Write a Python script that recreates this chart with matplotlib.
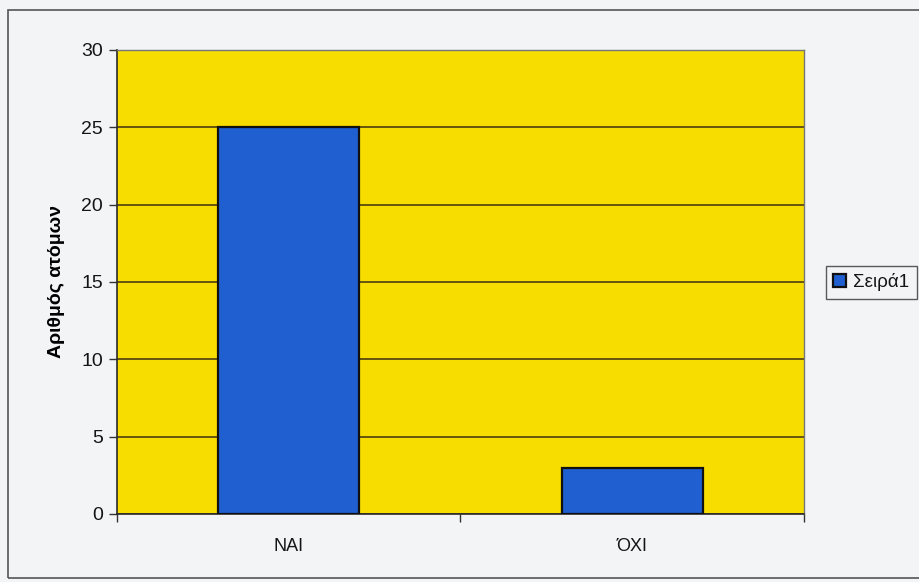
import matplotlib.pyplot as plt
from matplotlib.patches import Rectangle

categories = ["NAI", "ΌΧΙ"]
values = [25, 3]
series_name = "Σειρά1"
y_ticks = [0, 5, 10, 15, 20, 25, 30]

plt.rcParams['font.family'] = ['Liberation Sans', 'DejaVu Sans']
plt.rcParams['text.color'] = '#151515'

fig = plt.figure(figsize=(9.2, 5.82), dpi=100)
fig.patch.set_facecolor('#f3f4f6')

# outer chart frame
fig.patches.append(Rectangle((8 / 920, 4 / 582), 1.0, 568 / 582,
                             transform=fig.transFigure, fill=False,
                             edgecolor='#555555', linewidth=1.2))

ax = fig.add_axes([117 / 920, 68 / 582, 687 / 920, 464 / 582])
ax.set_facecolor('#f8de00')

x = list(range(len(categories)))
bars = ax.bar(x, values, width=0.41, color='#1f5fd0', edgecolor='#101010',
              linewidth=1.6, label=series_name, zorder=3)

ax.set_xlim(-0.5, len(categories) - 0.5)
ax.set_ylim(0, 30)
ax.set_yticks(y_ticks)
ax.yaxis.grid(True, color='#3e3010', linewidth=1.1, zorder=1)
ax.set_axisbelow(True)

ax.set_xticks(x)
ax.set_xticklabels(categories, fontsize=13, color='#151515')
ax.tick_params(axis='x', which='major', length=0, pad=17)
ax.set_xticks([-0.5, 0.5, 1.5], minor=True)
ax.tick_params(axis='x', which='minor', length=6, width=1, color='#333333',
               direction='out')
ax.tick_params(axis='y', length=6, width=1, color='#333333', labelsize=14,
               labelcolor='#151515', pad=4)

for side in ('left', 'bottom'):
    ax.spines[side].set_color('#2a2a2a')
    ax.spines[side].set_linewidth(1.2)
for side in ('top', 'right'):
    ax.spines[side].set_color('#777777')
    ax.spines[side].set_linewidth(1.0)

ax.set_ylabel("Αριθμός ατόμων", fontsize=14, fontweight='bold', labelpad=12)

leg = fig.legend(handles=[bars], labels=[series_name], loc='center left',
                 bbox_to_anchor=(826 / 920, 1 - 282 / 582), fontsize=13.5,
                 frameon=True, fancybox=False, handlelength=0.65,
                 handleheight=0.65, handletextpad=0.4, borderpad=0.4,
                 borderaxespad=0)
leg.get_frame().set_edgecolor('#333333')
leg.get_frame().set_facecolor('#f3f4f6')
leg.get_frame().set_linewidth(1.0)

fig.savefig('out.png', dpi=100, facecolor=fig.get_facecolor())
